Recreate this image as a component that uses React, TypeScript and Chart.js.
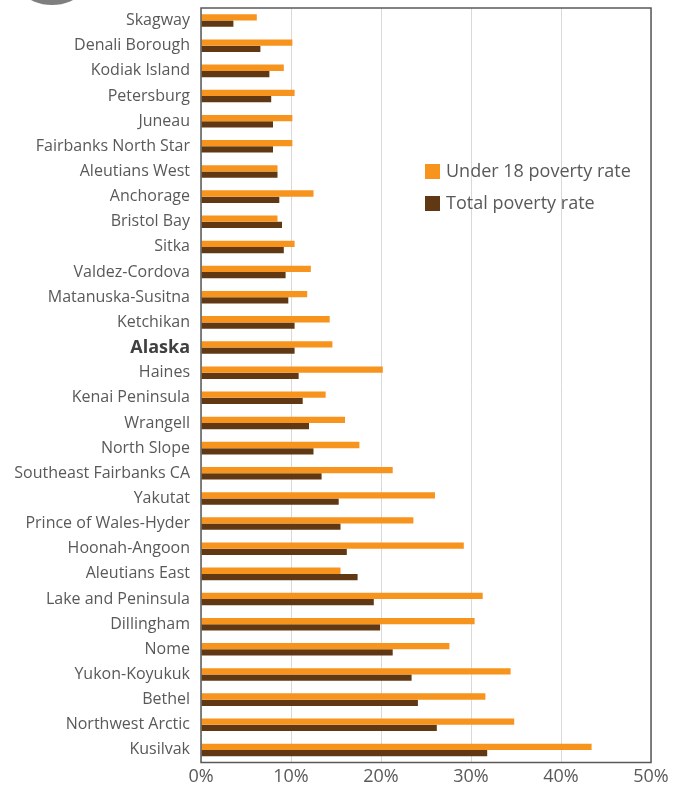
import React, { useEffect, useRef } from "react";
import { Chart, registerables } from "chart.js";

Chart.register(...registerables);

const categories = [
  "Skagway",
  "Denali Borough",
  "Kodiak Island",
  "Petersburg",
  "Juneau",
  "Fairbanks North Star",
  "Aleutians West",
  "Anchorage",
  "Bristol Bay",
  "Sitka",
  "Valdez-Cordova",
  "Matanuska-Susitna",
  "Ketchikan",
  "Alaska",
  "Haines",
  "Kenai Peninsula",
  "Wrangell",
  "North Slope",
  "Southeast Fairbanks CA",
  "Yakutat",
  "Prince of Wales-Hyder",
  "Hoonah-Angoon",
  "Aleutians East",
  "Lake and Peninsula",
  "Dillingham",
  "Nome",
  "Yukon-Koyukuk",
  "Bethel",
  "Northwest Arctic",
  "Kusilvak",
];

const under18Rate = [
  6.2, 10.15, 9.2, 10.4, 10.15, 10.15, 8.5, 12.5, 8.5, 10.4, 12.2, 11.8, 14.3,
  14.6, 20.2, 13.85, 16.0, 17.6, 21.3, 26.0, 23.6, 29.2, 15.5, 31.3, 30.4, 27.6,
  34.4, 31.6, 34.8, 43.4,
];

const totalRate = [
  3.6, 6.6, 7.6, 7.8, 8.0, 8.0, 8.5, 8.7, 9.0, 9.2, 9.4, 9.7, 10.4, 10.4, 10.85,
  11.3, 12.0, 12.5, 13.4, 15.3, 15.5, 16.2, 17.4, 19.2, 19.9, 21.3, 23.4, 24.1,
  26.2, 31.8,
];

const seriesLabels = ["Under 18 poverty rate", "Total poverty rate"];
const seriesColors = ["#F7941E", "#603813"];
const highlightCategory = "Alaska";

const FONT = "'Open Sans', 'DejaVu Sans', sans-serif";
const TEXT = "#595959";

const frameAndLegend = {
  id: "frameAndLegend",
  afterDraw(chart: any) {
    const { ctx, chartArea } = chart;
    ctx.save();
    ctx.strokeStyle = "#595959";
    ctx.lineWidth = 1.5;
    ctx.strokeRect(
      chartArea.left,
      chartArea.top,
      chartArea.right - chartArea.left,
      chartArea.bottom - chartArea.top
    );
    // legend inside plot area
    const lx = chartArea.left + 224;
    let ly = chartArea.top + 156;
    ctx.font = `18px ${FONT}`;
    ctx.textBaseline = "middle";
    ctx.textAlign = "left";
    chart.data.datasets.forEach((ds: any) => {
      ctx.fillStyle = ds.backgroundColor;
      ctx.fillRect(lx, ly, 15, 15);
      ctx.fillStyle = TEXT;
      ctx.fillText(ds.label, lx + 21, ly + 7.5);
      ly += 32;
    });
    ctx.restore();
  },
};

export default function App() {
  const ref = useRef<HTMLCanvasElement>(null);

  useEffect(() => {
    if (!ref.current) return;
    const chart = new Chart(ref.current, {
      type: "bar",
      data: {
        labels: categories,
        datasets: [
          {
            label: seriesLabels[0],
            data: under18Rate,
            backgroundColor: seriesColors[0],
            categoryPercentage: 0.5,
            barPercentage: 1,
          },
          {
            label: seriesLabels[1],
            data: totalRate,
            backgroundColor: seriesColors[1],
            categoryPercentage: 0.5,
            barPercentage: 1,
          },
        ],
      },
      options: {
        indexAxis: "y",
        animation: false,
        responsive: true,
        maintainAspectRatio: false,
        layout: { padding: { left: 0, right: 29, top: 8, bottom: 0 } },
        plugins: {
          legend: { display: false },
          tooltip: { enabled: false },
        },
        scales: {
          x: {
            min: 0,
            max: 50,
            grid: { color: "#D9D9D9", drawTicks: false, lineWidth: 1 },
            border: { display: false },
            ticks: {
              stepSize: 10,
              padding: 4,
              color: TEXT,
              font: { family: FONT, size: 18 },
              callback: (v: any) => v + "%",
            },
            afterFit: (scale: any) => {
              scale.height = 27.5;
            },
          },
          y: {
            grid: { display: false, drawTicks: false },
            border: { display: false },
            ticks: {
              padding: 11,
              autoSkip: false,
              color: (c: any) =>
                categories[c.index] === highlightCategory ? "#404040" : TEXT,
              font: (c: any) =>
                categories[c.index] === highlightCategory
                  ? { family: FONT, size: 18, weight: "bold" }
                  : { family: FONT, size: 16 },
            },
            afterFit: (scale: any) => {
              scale.width = 201;
              scale.paddingTop = 0;
              scale.paddingBottom = 0;
            },
          },
        },
      },
      plugins: [frameAndLegend],
    });
    return () => chart.destroy();
  }, []);

  return (
    <div
      style={{
        position: "absolute",
        left: 0,
        top: 0,
        width: 680,
        height: 790,
        background: "#fff",
        overflow: "hidden",
      }}
    >
      <div
        style={{
          position: "absolute",
          left: 5,
          top: -89,
          width: 94,
          height: 94,
          borderRadius: "50%",
          background: "#7F7F7F",
        }}
      />
      <canvas ref={ref} style={{ position: "absolute", left: 0, top: 0 }} />
    </div>
  );
}
